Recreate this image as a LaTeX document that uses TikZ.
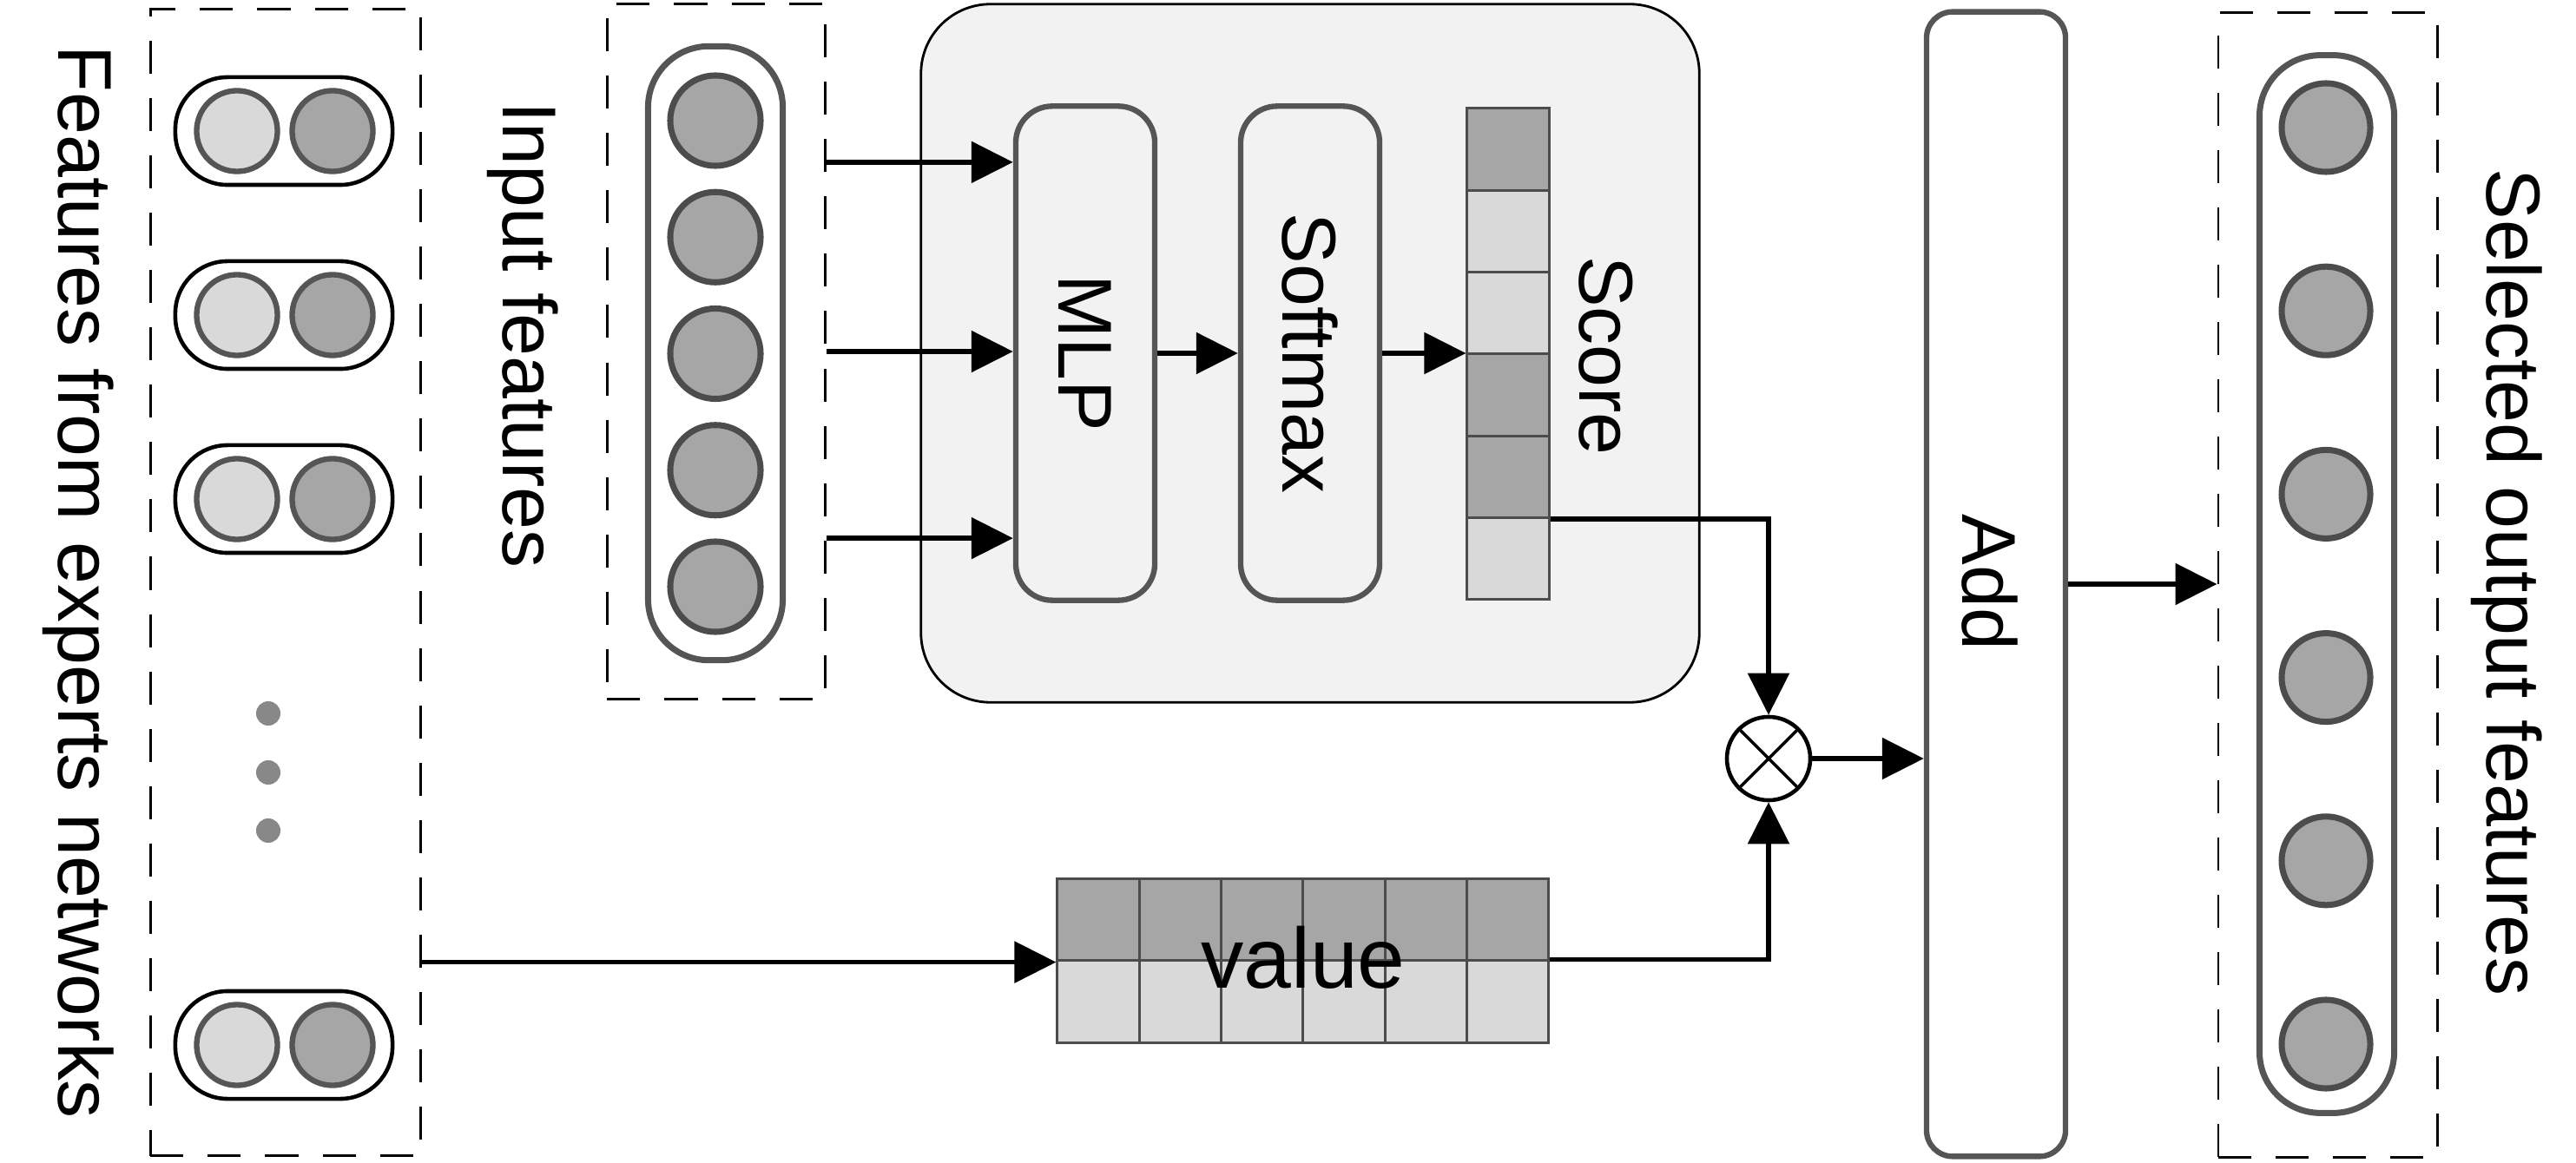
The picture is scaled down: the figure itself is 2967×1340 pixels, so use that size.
\documentclass[tikz,border=0pt]{standalone}
\usepackage{fontspec}
\setmainfont{Liberation Sans}
\usetikzlibrary{arrows.meta,positioning,calc}
\definecolor{darkcell}{RGB}{166,166,166}
\definecolor{lightcell}{RGB}{217,217,217}
\definecolor{edgegray}{RGB}{85,85,85}
\definecolor{panel}{RGB}{242,242,242}
\definecolor{dotgray}{RGB}{136,136,136}

\begin{document}
\begin{tikzpicture}[x=0.01cm,y=-0.01cm,
    font=\fontsize{25}{30}\selectfont,
    arr/.style={-{Triangle[length=0.48cm,width=0.47cm]},line width=1.6pt},
    dashbox/.style={draw,line width=0.8pt,dash pattern=on 0.38cm off 0.28cm,inner sep=0pt},
    capsule/.style={draw=edgegray,line width=2pt,rounded corners=0.7cm,inner sep=0pt,minimum width=1.55cm},
    pair/.style={draw,line width=1.3pt,rounded corners=0.6cm,minimum width=2.5cm,minimum height=1.24cm,inner sep=0pt},
    unit/.style={circle,draw=black!70,fill=darkcell,line width=2pt,minimum size=1.04cm,inner sep=0pt},
    block/.style={draw=edgegray,line width=1.8pt,rounded corners=0.42cm,minimum width=1.6cm,minimum height=5.69cm},
    cell/.style={draw=black!70,line width=0.8pt,minimum width=0.943cm,minimum height=0.943cm,inner sep=0pt}]
    \useasboundingbox (0,0) rectangle (2967,1340);

    % experts
    \node[dashbox,minimum width=3.11cm,minimum height=13.21cm] (experts) at (329,671) {};
    \foreach \y [count=\k] in {151,363,575,1204} {
        \node[pair] (pair\k) at (327,\y) {};
        \node[unit,fill=lightcell,draw=edgegray,line width=1.8pt,minimum size=0.93cm] (pa\k) at (273,\y) {};
        \node[unit,draw=edgegray,line width=1.8pt,minimum size=0.93cm] (pb\k) at (383,\y) {};
    }
    \foreach \y [count=\k] in {822,890,957}
        \node[circle,fill=dotgray,minimum size=0.28cm,inner sep=0pt] (dot\k) at (309,\y) {};
    \node[rotate=-90] (lblexp) at (90,671) {Features from experts networks};

    % input
    \node[dashbox,minimum width=2.51cm,minimum height=8.01cm] (inbox) at (825,405) {};
    \node[capsule,minimum height=7.07cm] (incap) at (824,407) {};
    \foreach \i in {1,...,5}
        \node[unit] (in\i) at (824,{139+134.25*(\i-1)}) {};
    \node[rotate=-90] (lblin) at (602,386) {Input features};

    % gating
    \node[draw,fill=panel,line width=0.8pt,rounded corners=0.8cm,minimum width=8.96cm,minimum height=8.04cm] (gate) at (1509,407) {};
    \node[block] (mlp) at (1250,407) {};
    \node[rotate=-90] (mlptext) at (mlp) {MLP};
    \node[block] (softmax) at (1509,407) {};
    \node[rotate=-90] (softtext) at (softmax) {Softmax};
    \foreach \c [count=\k] in {darkcell,lightcell,lightcell,darkcell,darkcell,lightcell}
        \node[cell,fill=\c] (s\k) at (1737,{172+94.33*(\k-1)}) {};
    \node[rotate=-90] (lblscore) at (1850,410) {Score};

    % value
    \foreach \k in {1,...,6} {
        \node[cell,fill=darkcell] (v\k) at ({1265+94.33*(\k-1)},1060) {};
        \node[cell,fill=lightcell] (w\k) at ({1265+94.33*(\k-1)},1154) {};
    }
    \node[font=\fontsize{28}{34}\selectfont] (vlabel) at (1501,1103) {value};

    % product, add, output
    \node[circle,draw,line width=1.3pt,minimum size=0.96cm,inner sep=0pt,
        path picture={\draw[line width=1pt] (path picture bounding box.north west) -- (path picture bounding box.south east)
            (path picture bounding box.north east) -- (path picture bounding box.south west);}] (mul) at (2037,874) {};
    \node[block,rounded corners=0.3cm,minimum height=13.18cm] (add) at (2299,673) {};
    \node[rotate=-90] (addtext) at (2292,671) {Add};
    \node[dashbox,minimum width=2.52cm,minimum height=13.18cm] (outbox) at (2681,674) {};
    \node[capsule,minimum height=12.18cm] (outcap) at (2680,673) {};
    \foreach \i in {1,...,6}
        \node[unit,minimum size=1.02cm] (out\i) at (2679,{147+211.2*(\i-1)}) {};
    \node[rotate=-90] (lblout) at (2887,671) {Selected output features};

    % connections
    \foreach \d in {2.18cm,0cm,-2.15cm}
        \draw[arr] ([yshift=\d]inbox.east) -- ([yshift=\d]inbox.east -| mlp.west);
    \draw[arr] (mlp) -- (softmax);
    \draw[arr] (softmax.east) -- (softmax.east -| s1.west);
    \draw[arr] (s5.south east) -| (mul.north);
    \draw[arr] (experts.east |- v1.south west) -- (v1.south west);
    \draw[arr] (w6.north east) -| (mul.south);
    \draw[arr] (mul.east) -- (mul.east -| add.west);
    \draw[arr] (add.east) -- (add.east -| outbox.west);
\end{tikzpicture}
\end{document}
